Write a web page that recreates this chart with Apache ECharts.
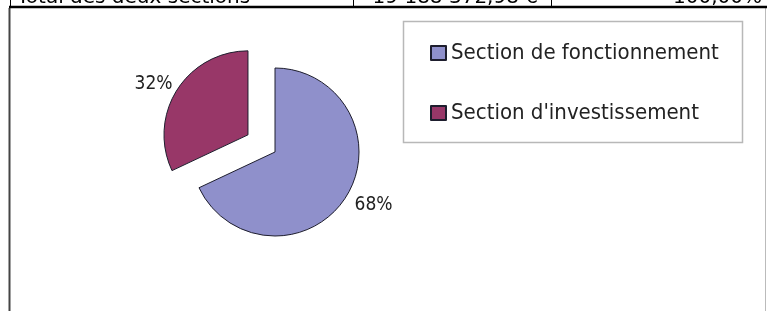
<!DOCTYPE html>
<html>
<head>
<meta charset="utf-8">
<title>Répartition des sections</title>
<script src="https://cdn.jsdelivr.net/npm/echarts@6/dist/echarts.min.js"></script>
<style>
  html, body { margin: 0; padding: 0; background: #fff; }
  #chart { width: 767px; height: 311px; }
</style>
</head>
<body>
<div id="chart"></div>
<script>
// données du graphique
var categories = ['Section de fonctionnement', "Section d'investissement"];
var values = [68, 32];
// ligne du tableau coupée en haut de l'image
var tableRow = ['Total des deux sections', '19 188 372,98 €', '100,00%'];

var sliceColors = ['#8f90cb', '#983768'];
var fontCond = '"DejaVu Sans Condensed", "DejaVu Sans", sans-serif';

var chart = echarts.init(document.getElementById('chart'), null, { renderer: 'canvas' });

var pieData = [];
for (var i = 0; i < categories.length; i++) {
	pieData.push({
		name : categories[i],
		value : values[i],
		selected : i == 1,
		itemStyle : { color : sliceColors[i] },
		// décalage des étiquettes (68% un peu plus bas)
		labelLine : { length : i == 0 ? 15 : 10 }
	});
}

var lineStyleBlack = { stroke : '#000', lineWidth : 1 };

var option = {
	animation : false,
	backgroundColor : '#fff',
	legend : {
		orient : 'vertical',
		left : 430,
		top : 41,
		padding : 0,
		itemWidth : 15,
		itemHeight : 14,
		itemGap : 36,
		icon : 'rect',
		selectedMode : false,
		data : categories,
		textStyle : {
			fontFamily : fontCond,
			fontSize : 22,
			lineHeight : 24,
			color : '#222'
		}
	},
	graphic : [
		// cadre du graphique
		{ type : 'rect', silent : true, shape : { x : 403.5, y : 21.5, width : 339, height : 121 },
			style : { fill : 'none', stroke : '#b8b8b8', lineWidth : 1.5 } },
		{ type : 'line', silent : true, shape : { x1 : 9.5, y1 : 8, x2 : 9.5, y2 : 311 },
			style : { stroke : '#444', lineWidth : 2 } },
		{ type : 'line', silent : true, shape : { x1 : 765.5, y1 : 8, x2 : 765.5, y2 : 311 },
			style : { stroke : '#bbb', lineWidth : 1 } },
		// ligne du tableau
		{ type : 'line', silent : true, shape : { x1 : 10.5, y1 : 0, x2 : 10.5, y2 : 7 }, style : lineStyleBlack },
		{ type : 'line', silent : true, shape : { x1 : 353.5, y1 : 0, x2 : 353.5, y2 : 7 }, style : lineStyleBlack },
		{ type : 'line', silent : true, shape : { x1 : 551.5, y1 : 0, x2 : 551.5, y2 : 7 }, style : lineStyleBlack },
		{ type : 'line', silent : true, shape : { x1 : 9, y1 : 7, x2 : 767, y2 : 7 },
			style : { stroke : '#000', lineWidth : 2.5 } },
		{ type : 'text', silent : true, x : 17, y : 7.5,
			style : { text : tableRow[0], fill : '#000', font : '20px "DejaVu Sans", sans-serif',
				textAlign : 'left', textVerticalAlign : 'bottom' } },
		{ type : 'text', silent : true, x : 538, y : 7.5,
			style : { text : tableRow[1], fill : '#000', font : '20px "DejaVu Sans", sans-serif',
				textAlign : 'right', textVerticalAlign : 'bottom' } },
		{ type : 'text', silent : true, x : 762, y : 7.5,
			style : { text : tableRow[2], fill : '#000', font : '20px "DejaVu Sans", sans-serif',
				textAlign : 'right', textVerticalAlign : 'bottom' } }
	],
	series : [ {
		type : 'pie',
		center : [275, 152],
		radius : 84,
		startAngle : 90,
		clockwise : true,
		selectedMode : 'single',
		selectedOffset : 32,
		percentPrecision : 0,
		avoidLabelOverlap : false,
		silent : true,
		itemStyle : { borderColor : '#1e1e2e', borderWidth : 1 },
		label : {
			show : true,
			position : 'outside',
			formatter : '{d}%',
			fontFamily : fontCond,
			fontSize : 19,
			color : '#222',
			distanceToLabelLine : -4
		},
		labelLine : { show : false, length : 10, length2 : 0 },
		emphasis : { disabled : true },
		data : pieData
	} ]
};

chart.setOption(option);
</script>
</body>
</html>
